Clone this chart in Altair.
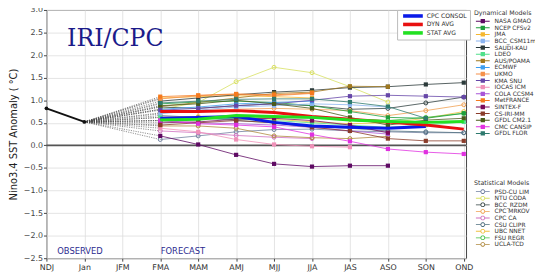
import math
import altair as alt
import pandas as pd

# ---------------- data ----------------
seasons = ["NDJ", "Jan", "JFM", "FMA", "MAM", "AMJ", "MJJ", "JJA", "JAS", "ASO", "SON", "OND"]
observed_idx = [0, 1]
observed_vals = [0.82, 0.52]
forecast_idx = [3, 4, 5, 6, 7, 8, 9, 10, 11]  # FMA .. OND
y_ticks = [-2.5, -2.0, -1.5, -1.0, -0.5, 0.0, 0.5, 1.0, 1.5, 2.0, 2.5, 3.0]
zero_level = [0.0]

# Dynamical models (FMA..OND)
nasa_gmao   = [0.21, 0.02, -0.21, -0.41, -0.47, -0.45, -0.45, None, None]
ncep_cfsv2  = [0.92, 0.96, 0.98, 0.95, 0.88, 0.75, 0.62, 0.60, 0.71]
jma         = [1.05, 1.08, 1.10, 1.08, 1.05, None, None, None, None]
bcc_csm11m  = [0.70, 0.78, 0.85, 0.88, 0.92, 0.90, 0.85, None, None]
saudi_kau   = [0.98, 1.05, 1.12, 1.18, 1.22, 1.28, 1.30, 1.35, 1.39]
ldeo        = [0.62, 0.60, 0.58, 0.55, 0.50, 0.45, 0.40, 0.45, 0.52]
aus_poama   = [0.86, 0.95, 1.05, 1.15, 1.18, 1.31, 1.30, None, None]
ecmwf       = [0.80, 0.85, 0.92, 0.95, 0.98, None, None, None, None]
ukmo        = [1.03, 1.10, 1.13, 1.10, 1.15, None, None, None, None]
kma_snu     = [0.78, 0.82, 0.88, 0.92, 1.00, 1.09, 1.11, 1.09, 1.07]
iocas_icm   = [0.38, 0.30, 0.13, 0.02, -0.02, -0.04, None, None, None]
cola_ccsm4  = [0.55, 0.50, 0.48, 0.45, 0.40, 0.32, 0.25, None, None]
metfrance   = [1.08, 1.11, 1.14, 1.12, 1.16, None, None, None, None]
sintex_f    = [0.50, 0.52, 0.58, 0.60, 0.55, 0.45, 0.28, None, None]
cs_iri_mm   = [0.45, 0.50, 0.55, 0.50, 0.40, 0.32, 0.15, 0.10, 0.10]
gfdl_cm21   = [0.88, 0.92, 1.00, 0.92, 0.82, 0.62, 0.45, 0.56, 0.60]
cmc_cansip  = [0.55, 0.48, 0.45, 0.41, 0.24, 0.09, -0.08, -0.15, -0.19]
gfdl_flor   = [0.94, 0.98, 1.02, 1.03, 1.03, 0.96, 0.86, 0.60, None]

dyn_names = ["NASA GMAO", "NCEP CFSv2", "JMA", "BCC_CSM11m", "SAUDI-KAU", "LDEO",
             "AUS/POAMA", "ECMWF", "UKMO", "KMA SNU", "IOCAS ICM", "COLA CCSM4",
             "MetFRANCE", "SINTEX-F", "CS-IRI-MM", "GFDL CM2.1", "CMC CANSIP", "GFDL FLOR"]
dyn_series = [nasa_gmao, ncep_cfsv2, jma, bcc_csm11m, saudi_kau, ldeo, aus_poama, ecmwf,
              ukmo, kma_snu, iocas_icm, cola_ccsm4, metfrance, sintex_f, cs_iri_mm,
              gfdl_cm21, cmc_cansip, gfdl_flor]
dyn_colors = ["#5e0a63", "#1f9e3c", "#f5b730", "#8ab4f0", "#2b3a3a", "#4fe08a",
              "#a0781e", "#3c9ef0", "#f5904a", "#6646a8", "#f090b8", "#a855d8",
              "#f57a1e", "#7a0a5a", "#8a3c2a", "#4a5a1a", "#e030e0", "#2e7a6e"]

# Statistical models (FMA..OND)
psd_cu_lim = [0.13, 0.21, 0.30, 0.35, 0.36, 0.32, 0.30, 0.28, 0.28]
ntu_coda   = [0.80, 0.95, 1.41, 1.73, 1.61, 1.30, 0.96, None, None]
bcc_rzdm   = [0.85, 0.82, 0.88, 0.92, 0.88, 0.80, 0.82, 0.94, 1.07]
cpc_mrkov  = [0.72, 0.76, 0.80, 0.82, 0.80, 0.77, 0.66, 0.77, 0.90]
cpc_ca     = [0.32, 0.28, 0.22, 0.18, 0.15, None, None, None, None]
csu_clipr  = [0.66, 0.62, 0.55, 0.50, 0.42, 0.38, 0.32, 0.30, 0.28]
ubc_nnet   = [0.62, 0.64, 0.62, 0.58, 0.52, 0.48, 0.50, 0.60, 0.75]
fsu_regr   = [0.55, 0.58, 0.60, 0.62, 0.60, 0.58, 0.55, 0.62, 0.71]
ucla_tcd   = [0.43, 0.43, 0.38, 0.21, 0.17, 0.15, 0.20, None, None]

stat_names = ["PSD-CU LIM", "NTU CODA", "BCC_RZDM", "CPC MRKOV", "CPC CA", "CSU CLIPR",
              "UBC NNET", "FSU REGR", "UCLA-TCD"]
stat_series = [psd_cu_lim, ntu_coda, bcc_rzdm, cpc_mrkov, cpc_ca, csu_clipr, ubc_nnet,
               fsu_regr, ucla_tcd]
stat_colors = ["#7080a0", "#d8e060", "#304040", "#f0a050", "#d070c0", "#507080",
               "#f0c040", "#40c040", "#b08a40"]

# Averages
cpc_consol = [0.60, 0.62, 0.64, 0.51, 0.43, 0.40, 0.38, 0.42, None]
dyn_avg    = [0.75, 0.75, 0.77, 0.73, 0.64, 0.58, 0.52, 0.45, 0.36]
stat_avg   = [0.56, 0.58, 0.66, 0.64, 0.62, 0.56, 0.53, 0.51, 0.53]
avg_names = ["CPC CONSOL", "DYN AVG", "STAT AVG"]
avg_series = [cpc_consol, dyn_avg, stat_avg]
avg_colors = ["#0a1ae8", "#e81010", "#22e022"]


def long_df(names, series):
    rows = []
    for n, s in zip(names, series):
        for i, v in zip(forecast_idx, s):
            if v is not None:
                rows.append({"model": n, "idx": i, "val": v})
    return pd.DataFrame(rows)


dyn_df = long_df(dyn_names, dyn_series)
stat_df = long_df(stat_names, stat_series)
avg_df = long_df(avg_names, avg_series)
obs_df = pd.DataFrame({"idx": observed_idx, "val": observed_vals})
zero_df = pd.DataFrame({"val": zero_level})

conn_rows = []
for n, s in zip(dyn_names + stat_names, dyn_series + stat_series):
    conn_rows.append({"model": n, "idx": observed_idx[-1], "val": observed_vals[-1]})
    conn_rows.append({"model": n, "idx": forecast_idx[0], "val": s[0]})
conn_df = pd.DataFrame(conn_rows)

# ---------------- encodings ----------------
FONT = "DejaVu Sans"
season_expr = "[" + ",".join(f"'{s}'" for s in seasons) + "][round(datum.value)]"

X = alt.X("idx:Q",
          scale=alt.Scale(domain=[0, 11.06], nice=False, zero=False),
          axis=alt.Axis(values=list(range(12)), labelExpr=season_expr, title=None,
                        grid=True, gridColor="#dddddd", gridWidth=0.8, domain=False,
                        labelFlush=False, labelOverlap=False,
                        tickColor="#444", tickSize=3, labelFont=FONT, labelFontSize=8,
                        labelColor="#333", labelPadding=2))
Y = alt.Y("val:Q",
          scale=alt.Scale(domain=[-2.5, 3.0], nice=False, zero=False),
          axis=alt.Axis(values=y_ticks, format=".1f", title="Nino3.4 SST Anomaly ( °C)",
                        titleFont=FONT, titleFontSize=10, titleFontWeight="normal",
                        titleColor="#222", titleX=-33, titleBaseline="middle",
                        labelFlush=False, labelOverlap=False,
                        grid=True, gridColor="#dddddd", gridWidth=0.8, domain=False,
                        tickColor="#444", tickSize=3, labelFont=FONT, labelFontSize=8,
                        labelColor="#444", labelPadding=1))

one = pd.DataFrame({"a": [0]})

zero_line = alt.Chart(zero_df).mark_rule(color="#555555", strokeWidth=2).encode(y=Y)

connectors = alt.Chart(conn_df).mark_line(color="#444444", strokeWidth=0.6,
                                          strokeDash=[1.2, 1.2]).encode(
    x=X, y=Y, detail="model:N")

observed = alt.Chart(obs_df).mark_line(color="#111111", strokeWidth=2,
                                       point=alt.OverlayMarkDef(color="#111111", size=14,
                                                                filled=True)).encode(x=X, y=Y)

dyn_scale = alt.Scale(domain=dyn_names, range=dyn_colors)
stat_scale = alt.Scale(domain=stat_names, range=stat_colors)
avg_scale = alt.Scale(domain=avg_names, range=avg_colors)


# custom legend symbols, all filled paths (unit = sqrt(symbolSize)/2 px = 2 px)
def rect(x0, y0, x1, y1):
    return f"M{x0},{y0} L{x1},{y0} L{x1},{y1} L{x0},{y1} Z "


def octagon(r, reverse=False):
    angs = [math.radians(22.5 + 45 * k) for k in range(8)]
    if reverse:
        angs = angs[::-1]
    pts = [(r * math.cos(a), r * math.sin(a)) for a in angs]
    return "M" + " L".join(f"{x:.3f},{y:.3f}" for x, y in pts) + " Z "


dyn_symbol = rect(-3.5, -0.25, 3.5, 0.25) + rect(-1.1, -1.1, 1.1, 1.1)
stat_symbol = (rect(-3.5, -0.22, -1.15, 0.22) + rect(1.15, -0.22, 3.5, 0.22)
               + octagon(1.25) + octagon(0.8, reverse=True))
avg_symbol = rect(-5, -0.9, 5, 0.9)

legend_common = dict(labelFont=FONT, labelFontSize=6.0, labelColor="#333",
                     titleFont=FONT, titleFontSize=6.4, titleFontWeight="normal",
                     titleColor="#333", orient="none", padding=0, symbolOpacity=1,
                     symbolStrokeWidth=0, symbolSize=16, symbolOffset=6, labelOffset=9,
                     rowPadding=0.7, titlePadding=2)

dyn_line = alt.Chart(dyn_df).mark_line(strokeWidth=0.8).encode(
    x=X, y=Y, color=alt.Color("model:N", scale=dyn_scale, legend=None))
dyn_pts = alt.Chart(dyn_df).mark_point(shape="square", filled=True, size=18, opacity=1).encode(
    x=X, y=Y,
    color=alt.Color("model:N", scale=dyn_scale,
                    legend=alt.Legend(title="Dynamical Models", symbolType=dyn_symbol,
                                      legendX=434, legendY=0, **legend_common)))

stat_line = alt.Chart(stat_df).mark_line(strokeWidth=0.8).encode(
    x=X, y=Y, color=alt.Color("model:N", scale=stat_scale, legend=None))
stat_pts = alt.Chart(stat_df).mark_point(shape="circle", filled=False, size=16, opacity=1,
                                         strokeWidth=1).encode(
    x=X, y=Y, color=alt.Color("model:N", scale=stat_scale, legend=None))
stat_key = alt.Chart(stat_df).mark_point(filled=True, size=1, opacity=0).encode(
    x=X, y=Y,
    color=alt.Color("model:N", scale=stat_scale,
                    legend=alt.Legend(title="Statistical Models", symbolType=stat_symbol,
                                      legendX=434, legendY=173, **legend_common)))

avg_line = alt.Chart(avg_df).mark_line(strokeWidth=3).encode(
    x=X, y=Y, color=alt.Color("model:N", scale=avg_scale, legend=None))
avg_key = alt.Chart(avg_df).mark_point(filled=True, size=1, opacity=0).encode(
    x=X, y=Y,
    color=alt.Color("model:N", scale=avg_scale,
                    legend=alt.Legend(title=None, symbolType=avg_symbol, symbolSize=16,
                                      symbolStrokeWidth=0, symbolOffset=10, labelOffset=11,
                                      rowPadding=1.6, legendX=356, legendY=0,
                                      fillColor="white", strokeColor="#bbbbbb",
                                      labelFont=FONT, labelFontSize=6.2, labelColor="#333",
                                      orient="none", padding=3, symbolOpacity=1)))

iri_text = alt.Chart(one).mark_text(text="IRI/CPC", font="DejaVu Serif", fontSize=24,
                                    color="#1b1b8a", align="left", baseline="alphabetic").encode(
    x=alt.value(21), y=alt.value(37))
obs_text = alt.Chart(one).mark_text(text="OBSERVED", font=FONT, fontSize=8.5,
                                    color="#2b2b8f", align="left", baseline="alphabetic").encode(
    x=alt.value(11), y=alt.value(248))
fc_text = alt.Chart(one).mark_text(text="FORECAST", font=FONT, fontSize=8.5,
                                   color="#2b2b8f", align="left", baseline="alphabetic").encode(
    x=alt.value(116), y=alt.value(248))

chart = alt.layer(
    zero_line, connectors, observed, stat_line, stat_pts, stat_key, dyn_line, dyn_pts,
    avg_line, avg_key, iri_text, obs_text, fc_text
).resolve_scale(color="independent").properties(
    width=426, height=252,
    autosize=alt.AutoSizeParams(type="none"),
    padding={"left": 39, "top": 0, "right": 70, "bottom": 12},
).configure_view(stroke="#444444", strokeWidth=1)

chart.save("out.html", embed_options={"renderer": "svg", "actions": False})
